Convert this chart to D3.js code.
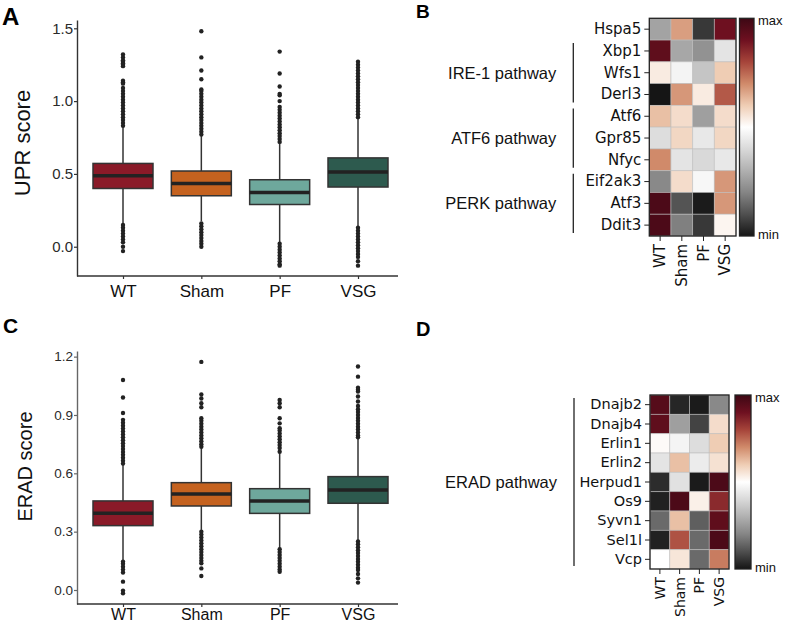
<!DOCTYPE html>
<html><head><meta charset="utf-8">
<script src="https://cdn.jsdelivr.net/npm/d3@7"></script>
<style>
body{margin:0;background:#fff;}
svg{display:block;}
</style></head>
<body>
<svg id="fig" width="787" height="625"></svg>
<script>
// ---------- DATA ----------
const groups = ["WT", "Sham", "PF", "VSG"];
const groupColors = ["#8a1a28", "#c5621f", "#6ea89c", "#2d5a4e"];

// Panel A: UPR score box stats
const uprLow  = [0.16, 0.175, 0.03, 0.14];
const uprQ1   = [0.40, 0.35, 0.29, 0.41];
const uprMed  = [0.488, 0.434, 0.372, 0.513];
const uprQ3   = [0.572, 0.52, 0.46, 0.61];
const uprHigh = [0.82, 0.76, 0.71, 0.885];
const uprOutWT   = [1.32,1.30,1.28,1.27,1.26,1.25,1.24,1.14,1.13,1.12,1.09,1.07,1.05,1.03,1.01,0.99,0.97,0.95,0.93,0.91,0.89,0.87,0.85,0.83,
                    0.15,0.13,0.11,0.09,0.07,0.05,0.03,0.00,-0.03];
const uprOutSham = [1.48,1.30,1.21,1.15,1.08,1.07,1.05,1.03,1.01,0.99,0.97,0.95,0.93,0.91,0.89,0.87,0.85,0.83,0.81,0.79,0.77,
                    0.16,0.14,0.12,0.10,0.08,0.06,0.04,0.02,0.00];
const uprOutPF   = [1.34,1.19,1.10,1.05,1.04,1.00,0.96,0.94,0.92,0.90,0.88,0.86,0.84,0.82,0.80,0.78,0.76,0.74,0.72,
                    0.02,0.00,-0.02,-0.04,-0.06,-0.08,-0.10,-0.12,-0.13];
const uprOutVSG  = [1.27,1.25,1.23,1.21,1.19,1.17,1.15,1.13,1.11,1.09,1.07,1.05,1.03,1.01,0.99,0.97,0.95,0.93,0.91,0.89,
                    0.13,0.11,0.09,0.07,0.05,0.03,0.01,-0.01,-0.03,-0.05,-0.07,-0.10,-0.13];
const uprTicks = [0.0, 0.5, 1.0, 1.5];

// Panel C: ERAD score box stats
const eradLow  = [0.154, 0.309, 0.214, 0.254];
const eradQ1   = [0.331, 0.432, 0.394, 0.446];
const eradMed  = [0.395, 0.494, 0.458, 0.514];
const eradQ3   = [0.458, 0.552, 0.521, 0.583];
const eradHigh = [0.643, 0.729, 0.703, 0.78];
const eradOutWT   = [1.08,0.99,0.91,0.875,0.86,0.845,0.83,0.815,0.80,0.785,0.77,0.755,0.74,0.725,0.71,0.695,0.68,0.665,0.65,
                     0.146,0.135,0.12,0.105,0.09,0.043,-0.003,-0.017];
const eradOutSham = [1.173,1.005,0.985,0.96,0.94,0.883,0.87,0.855,0.84,0.825,0.81,0.795,0.78,0.765,0.75,0.737,
                     0.30,0.285,0.27,0.255,0.24,0.225,0.21,0.195,0.18,0.165,0.15,0.137,0.111,0.072];
const eradOutPF   = [0.977,0.96,0.94,0.883,0.857,0.832,0.82,0.805,0.79,0.775,0.76,0.745,0.73,0.711,
                     0.21,0.195,0.18,0.165,0.15,0.135,0.12,0.105,0.094];
const eradOutVSG  = [1.149,1.097,1.04,1.03,1.021,0.995,0.969,0.946,0.93,0.915,0.90,0.885,0.87,0.855,0.84,0.825,0.81,0.795,0.785,
                     0.25,0.235,0.22,0.205,0.19,0.175,0.16,0.145,0.13,0.115,0.103,0.082,0.06,0.038];
const eradTicks = [0.0, 0.3, 0.6, 0.9, 1.2];

// Panel B heatmap (scaled 0=min .. 1=max), columns = groups
const genesB = ["Hspa5","Xbp1","Wfs1","Derl3","Atf6","Gpr85","Nfyc","Eif2ak3","Atf3","Ddit3"];
const heatB = [
  [0.27, 0.67, 0.06, 0.90],
  [0.93, 0.28, 0.23, 0.43],
  [0.54, 0.47, 0.35, 0.60],
  [0.00, 0.68, 0.54, 0.77],
  [0.62, 0.57, 0.26, 0.57],
  [0.41, 0.58, 0.44, 0.58],
  [0.70, 0.43, 0.40, 0.44],
  [0.21, 0.57, 0.48, 0.68],
  [0.97, 0.11, 0.01, 0.68],
  [0.97, 0.19, 0.06, 0.52]
];
const pathwaysB = [
  {name: "IRE-1 pathway", first: "Xbp1", last: "Derl3"},
  {name: "ATF6 pathway", first: "Atf6", last: "Nfyc"},
  {name: "PERK pathway", first: "Eif2ak3", last: "Ddit3"}
];

// Panel D heatmap
const genesD = ["Dnajb2","Dnajb4","Erlin1","Erlin2","Herpud1","Os9","Syvn1","Sel1l","Vcp"];
const heatD = [
  [0.95, 0.03, 0.01, 0.21],
  [0.93, 0.26, 0.08, 0.57],
  [0.51, 0.47, 0.41, 0.60],
  [0.43, 0.62, 0.45, 0.56],
  [0.04, 0.42, 0.01, 0.97],
  [0.02, 0.97, 0.53, 0.85],
  [0.15, 0.62, 0.13, 0.93],
  [0.02, 0.78, 0.15, 0.97],
  [0.50, 0.55, 0.15, 0.72]
];
const pathwaysD = [{name: "ERAD pathway", first: "Dnajb2", last: "Vcp"}];

// colormap stops
const cmapStops = [0, 0.1, 0.2, 0.3, 0.4, 0.5, 0.6, 0.7, 0.8, 0.9, 1.0];
const cmapColors = ["#151515","#4f4f4f","#858585","#b0b0b0","#d9d9d9","#ffffff","#efcdb4","#d08a6a","#a6443a","#6e1020","#3d0814"];

// ---------- DRAW ----------
const svg = d3.select("#fig");
const color = d3.scaleLinear().domain(cmapStops).range(cmapColors).interpolate(d3.interpolateRgb);
const ARIAL = "'Liberation Sans', Arial, sans-serif";
const DEJAVU = "'DejaVu Sans', sans-serif";

function boxPanel(cfg) {
  const g = svg.append("g");
  const y = d3.scaleLinear().domain(cfg.domain).range([cfg.bottom, cfg.top]);
  const x = d3.scalePoint().domain(groups).range([123, 358]);
  const bw = 60;

  // y axis
  const ya = g.append("g").attr("transform", `translate(77,0)`)
    .call(d3.axisLeft(y).tickValues(cfg.ticks).tickFormat(d3.format(".1f")).tickSize(3).tickSizeOuter(0));
  ya.select(".domain").attr("stroke", cfg.axisColor).attr("stroke-width", 1.4);
  ya.selectAll(".tick line").attr("stroke", cfg.axisColor).attr("stroke-width", 1.2);
  ya.selectAll(".tick text").attr("font-family", ARIAL).attr("font-size", cfg.tickFont).attr("fill", "#2a2a2a").attr("x", -4);

  // x axis
  g.append("line").attr("x1", 77).attr("x2", 398).attr("y1", cfg.bottom).attr("y2", cfg.bottom)
    .attr("stroke", "#333").attr("stroke-width", 1.4);
  const xa = g.append("g").attr("transform", `translate(0,${cfg.bottom})`)
    .call(d3.axisBottom(x).tickSize(3).tickSizeOuter(0));
  xa.select(".domain").remove();
  xa.selectAll(".tick line").attr("stroke", "#333").attr("stroke-width", 1.2);
  xa.selectAll(".tick text").attr("font-family", ARIAL).attr("font-size", cfg.xFont).attr("fill", "#111")
    .attr("y", cfg.xBase).attr("dy", 0);

  // y title
  g.append("text").attr("transform", `translate(${cfg.titleX},${(cfg.top + cfg.bottom) / 2 + cfg.titleShift}) rotate(-90)`)
    .attr("text-anchor", "middle").attr("font-family", ARIAL).attr("font-size", cfg.titleFont).attr("fill", "#111")
    .text(cfg.title);

  groups.forEach((grp, i) => {
    const cx = x(grp);
    // whiskers
    g.append("line").attr("x1", cx).attr("x2", cx).attr("y1", y(cfg.high[i])).attr("y2", y(cfg.q3[i]))
      .attr("stroke", "#333").attr("stroke-width", 1.5);
    g.append("line").attr("x1", cx).attr("x2", cx).attr("y1", y(cfg.q1[i])).attr("y2", y(cfg.low[i]))
      .attr("stroke", "#333").attr("stroke-width", 1.5);
    // outliers
    g.selectAll(null).data(cfg.out[i]).enter().append("circle")
      .attr("cx", cx).attr("cy", d => y(d)).attr("r", 2.2).attr("fill", "#222");
    // box
    g.append("rect").attr("x", cx - bw / 2).attr("width", bw)
      .attr("y", y(cfg.q3[i])).attr("height", y(cfg.q1[i]) - y(cfg.q3[i]))
      .attr("fill", groupColors[i]).attr("stroke", "#333").attr("stroke-width", 1.5);
    g.append("line").attr("x1", cx - bw / 2).attr("x2", cx + bw / 2).attr("y1", y(cfg.med[i])).attr("y2", y(cfg.med[i]))
      .attr("stroke", "#222").attr("stroke-width", 3.5);
  });
}

boxPanel({domain: [-0.201, 1.557], top: 20, bottom: 276, ticks: uprTicks, tickFont: 15, axisColor: "#333",
  title: "UPR score", titleX: 30, titleShift: -5, titleFont: 22, xFont: 17, xBase: 21,
  low: uprLow, q1: uprQ1, med: uprMed, q3: uprQ3, high: uprHigh,
  out: [uprOutWT, uprOutSham, uprOutPF, uprOutVSG]});

boxPanel({domain: [-0.072, 1.229], top: 351, bottom: 604, ticks: eradTicks, tickFont: 13.5, axisColor: "#666",
  title: "ERAD score", titleX: 32, titleShift: -11, titleFont: 20, xFont: 16, xBase: 16,
  low: eradLow, q1: eradQ1, med: eradMed, q3: eradQ3, high: eradHigh,
  out: [eradOutWT, eradOutSham, eradOutPF, eradOutVSG]});

function heatPanel(cfg) {
  const g = svg.append("g");
  const x = d3.scaleBand().domain(groups).range([cfg.left, cfg.right]);
  const y = d3.scaleBand().domain(cfg.genes).range([cfg.top, cfg.bottom]);
  cfg.data.forEach((row, r) => {
    row.forEach((v, c) => {
      g.append("rect").attr("x", x(groups[c])).attr("y", y(cfg.genes[r]))
        .attr("width", x.bandwidth()).attr("height", y.bandwidth())
        .attr("fill", color(v)).attr("stroke", "rgba(190,190,190,0.7)").attr("stroke-width", 0.8);
    });
  });
  g.append("rect").attr("x", cfg.left).attr("y", cfg.top).attr("width", cfg.right - cfg.left).attr("height", cfg.bottom - cfg.top)
    .attr("fill", "none").attr("stroke", "#222").attr("stroke-width", 1.3);

  const ya = g.append("g").attr("transform", `translate(${cfg.left},0)`).call(d3.axisLeft(y).tickSize(5).tickPadding(3));
  ya.select(".domain").remove();
  ya.selectAll(".tick line").attr("stroke", "#222");
  ya.selectAll(".tick text").attr("font-family", DEJAVU).attr("font-size", cfg.geneFont).attr("fill", "#111");

  const xa = g.append("g").attr("transform", `translate(0,${cfg.bottom})`).call(d3.axisBottom(x).tickSize(5).tickPadding(3));
  xa.select(".domain").remove();
  xa.selectAll(".tick line").attr("stroke", "#222");
  xa.selectAll(".tick text").attr("font-family", DEJAVU).attr("font-size", cfg.colFont).attr("fill", "#111")
    .attr("transform", "rotate(-90)").attr("text-anchor", "end").attr("x", -8).attr("y", 0).attr("dy", "0.35em");

  // pathway brackets
  cfg.pathways.forEach(p => {
    const y1 = y(p.first) + 3, y2 = y(p.last) + y.bandwidth() - 3;
    g.append("line").attr("x1", cfg.bracketX).attr("x2", cfg.bracketX).attr("y1", y1).attr("y2", y2)
      .attr("stroke", "#222").attr("stroke-width", 1.3);
    g.append("text").attr("x", cfg.bracketX - 17).attr("y", (y1 + y2) / 2).attr("dy", "0.35em")
      .attr("text-anchor", "end").attr("font-family", ARIAL).attr("font-size", 16.5).attr("fill", "#111").text(p.name);
  });

  // colorbar
  const cb = d3.scaleLinear().domain([0, 1]).range([cfg.bottom, cfg.top]);
  const gradId = "grad" + cfg.id;
  const grad = svg.append("defs").append("linearGradient").attr("id", gradId)
    .attr("x1", 0).attr("x2", 0).attr("y1", 1).attr("y2", 0);
  cmapStops.forEach((s, i) => grad.append("stop").attr("offset", s).attr("stop-color", cmapColors[i]));
  g.append("rect").attr("x", cfg.cbLeft).attr("y", cb(1)).attr("width", cfg.cbWidth).attr("height", cb(0) - cb(1))
    .attr("fill", `url(#${gradId})`).attr("stroke", "#222").attr("stroke-width", 1.3);
  g.append("text").attr("x", cfg.cbLeft + cfg.cbWidth + 4).attr("y", cb(1) + 2).attr("dy", "0.35em")
    .attr("font-family", ARIAL).attr("font-size", 13).attr("fill", "#111").text("max");
  g.append("text").attr("x", cfg.cbLeft + cfg.cbWidth + 4).attr("y", cb(0) - 2).attr("dy", "0.35em")
    .attr("font-family", ARIAL).attr("font-size", 13).attr("fill", "#111").text("min");
}

heatPanel({id: "B", genes: genesB, data: heatB, pathways: pathwaysB,
  left: 649.3, right: 736, top: 18.3, bottom: 236, geneFont: 15, colFont: 15,
  bracketX: 573.3, cbLeft: 739.5, cbWidth: 14.5});

heatPanel({id: "D", genes: genesD, data: heatD, pathways: pathwaysD,
  left: 650, right: 729, top: 395, bottom: 569, geneFont: 14.5, colFont: 14,
  bracketX: 574, cbLeft: 735, cbWidth: 16});

// panel letters
const letters = [
  {t: "A", x: 2, y: 25, s: 24},
  {t: "B", x: 416, y: 18, s: 19},
  {t: "C", x: 3, y: 333, s: 21},
  {t: "D", x: 416, y: 336, s: 20}
];
svg.selectAll(null).data(letters).enter().append("text")
  .attr("x", d => d.x).attr("y", d => d.y).attr("font-size", d => d.s)
  .attr("font-family", ARIAL).attr("font-weight", "bold").attr("fill", "#000").text(d => d.t);
</script>
</body></html>
